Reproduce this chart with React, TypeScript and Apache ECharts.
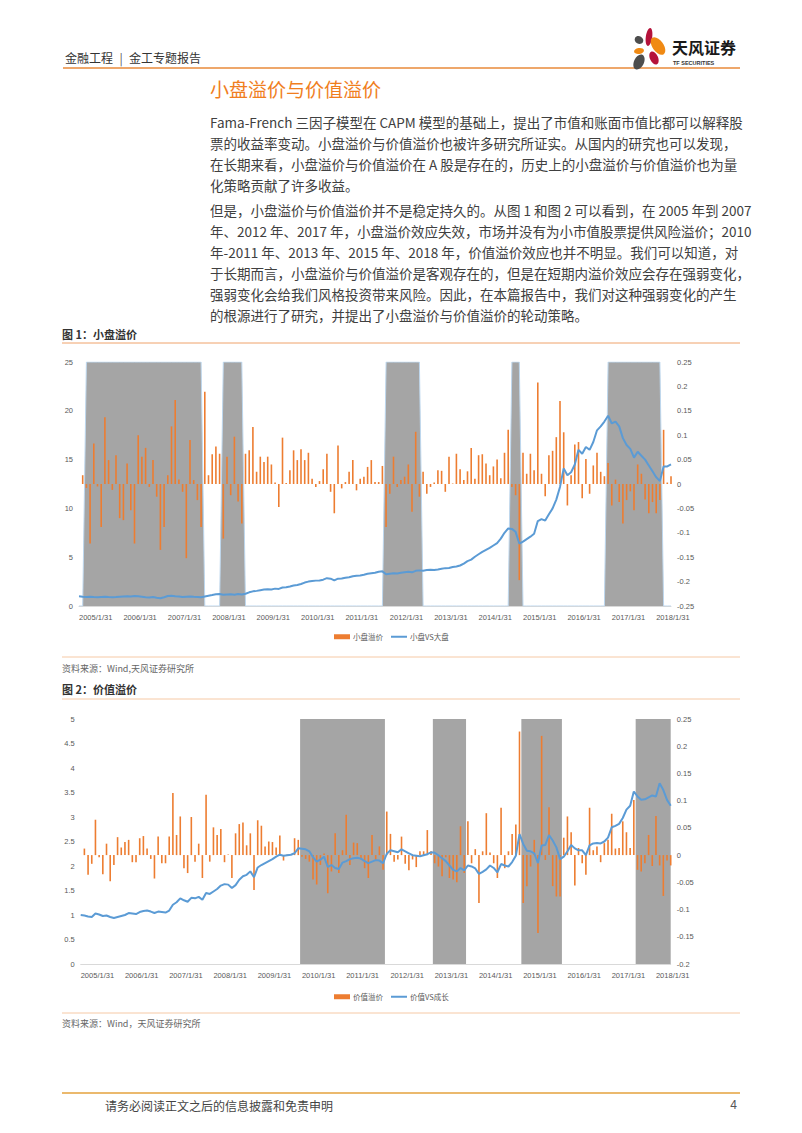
import React, { useEffect, useRef } from "react";
import * as echarts from "echarts";

// ---------- data ----------
const START_YEAR = 2005;
const MONTH_COUNT = 161; // 2005/1/31 .. 2018/5/31
const dates: string[] = [];
for (let k = 0; k < MONTH_COUNT; k++) {
  const y = START_YEAR + Math.floor(k / 12);
  const m = (k % 12) + 1;
  dates.push(`${y}/${m}/${new Date(y, m, 0).getDate()}`);
}

// 小盘溢价 (right axis)
const sizePremium = [
  null, 0.018, -0.008, -0.122, 0.083, -0.005, -0.088, 0.137, 0.049, -0.012,
  0.059, -0.07, -0.074, 0.042, -0.054, -0.122, 0.1, 0.056, 0.074, -0.006,
  0.049, -0.026, -0.135, -0.088, 0.018, 0.118, 0.172, 0.009, -0.016, -0.152,
  0.09, 0.008, -0.033, -0.088, 0.189, 0.018, 0.061, 0.077, 0.062, -0.112,
  0.056, -0.023, 0.097, -0.036, -0.081, 0.062, 0.069, 0.117, 0.025, 0.056,
  0.045, 0.056, 0.04, 0.003, -0.047, 0.095, 0.002, 0.028, 0.069, 0.049,
  0.071, 0.049, 0.064, 0.011, -0.006, 0.006, 0.03, 0.062, -0.016, -0.06,
  0.079, -0.009, 0.004, 0.025, 0.049, -0.013, 0.011, 0.015, 0.035, 0.049,
  0.004, 0.004, 0.037, -0.088, -0.02, 0.056, -0.006, 0.008, 0.015, 0.04,
  -0.057, 0.107, -0.026, 0.025, -0.02, -0.006, 0.003, 0.028, 0.027, -0.016,
  0.056, 0.001, 0.062, 0.03, 0.008, 0.026, 0.074, 0.011, 0.059, 0.061,
  0.042, 0.018, 0.036, 0.05, 0.012, 0.064, 0.111, -0.006, -0.023, -0.197,
  0.064, 0.021, 0.062, 0.028, 0.208, 0.021, -0.025, 0.059, 0.068, 0.096,
  0.17, 0.106, -0.044, 0.018, 0.081, 0.086, -0.029, 0.051, -0.02, 0.038,
  0.064, 0.025, 0.016, 0.043, -0.044, 0.009, -0.037, -0.081, -0.033, -0.015,
  -0.054, 0.04, 0.021, -0.032, -0.06, -0.037, -0.06, -0.033, 0.111, 0.003,
  0.016,
];

// 小盘VS大盘 (left axis)
const sizeNav = [
  1.0, 0.95, 0.93, 0.95, 0.92, 0.9, 0.93, 0.95, 0.92, 0.9,
  0.92, 0.95, 0.98, 1.0, 0.97, 1.02, 1.0, 0.95, 0.9, 0.88,
  0.92, 0.85, 0.8, 0.9, 1.02, 1.05, 1.0, 0.98, 0.92, 0.95,
  0.98, 0.95, 0.93, 0.9, 0.98, 1.05, 1.12, 1.2, 1.22, 1.15,
  1.18, 1.2, 1.15, 1.22, 1.18, 1.25, 1.4, 1.5, 1.55, 1.62,
  1.68, 1.72, 1.7, 1.78, 1.75, 1.9, 1.92, 2.0, 2.1, 2.15,
  2.25, 2.4, 2.5, 2.55, 2.6, 2.62, 2.7, 2.85, 2.8, 2.62,
  2.8, 2.82, 2.9, 2.95, 3.05, 3.1, 3.12, 3.2, 3.3, 3.35,
  3.4, 3.5, 3.55, 3.25, 3.3, 3.35, 3.32, 3.4, 3.45, 3.5,
  3.45, 3.6, 3.65, 3.62, 3.68, 3.72, 3.7, 3.75, 3.82, 3.88,
  3.9, 4.0, 4.05, 4.15, 4.35, 4.6, 4.75, 5.05, 5.3, 5.55,
  5.75, 5.95, 6.2, 6.45, 6.9, 7.5, 7.95, 7.9, 7.6, 6.4,
  6.6, 6.85, 7.1, 7.4, 8.7, 8.9, 8.75, 9.4, 10.0, 10.9,
  12.2, 14.1, 13.4, 13.7, 14.5, 16.0, 15.6, 16.3, 16.0, 16.8,
  18.0, 18.4, 18.9, 19.5, 18.7, 18.9, 18.4, 17.2, 16.5, 16.1,
  15.2, 15.8, 15.4, 15.0, 14.4, 13.8, 13.2, 12.8, 14.3, 14.3,
  14.5,
];

// 小盘溢价失效区间 (gray)
const sizeRegimes = [
  ["2005/3/31", "2007/10/31"],
  ["2008/4/30", "2008/9/30"],
  ["2011/12/31", "2012/9/30"],
  ["2014/10/31", "2014/12/31"],
  ["2016/12/31", "2018/2/28"],
];

// 价值溢价 (right axis)
const valuePremium = [
  null, 0.012, -0.036, -0.016, 0.065, -0.004, -0.035, 0.021, -0.048, -0.018,
  0.033, 0.014, 0.024, 0.028, -0.013, -0.013, 0.031, 0.035, 0.012, -0.007,
  -0.043, 0.034, -0.015, -0.015, 0.034, 0.114, 0.037, 0.071, -0.024, -0.033,
  0.07, -0.012, 0.021, -0.042, 0.111, -0.012, 0.051, 0.037, 0.048, -0.013,
  0.001, -0.042, 0.04, 0.057, 0.06, 0.018, 0.04, -0.064, 0.064, 0.054,
  0.016, 0.025, 0.024, 0.014, 0.036, -0.01, 0.001, 0.002, 0.031, 0.028,
  -0.003, -0.007, -0.012, -0.045, -0.054, -0.018, 0.003, -0.07, -0.03, 0.04,
  -0.033, 0.009, 0.074, -0.018, 0.023, 0.022, -0.008, -0.024, -0.042, 0.037,
  -0.008, 0.016, -0.027, 0.08, 0.039, -0.012, -0.008, 0.034, -0.016, -0.028,
  -0.008, -0.022, 0.007, 0.007, 0.046, 0.007, -0.015, -0.021, -0.039, -0.004,
  -0.042, -0.045, -0.05, 0.053, -0.033, 0.062, -0.015, 0.011, -0.088, 0.007,
  0.077, 0.005, -0.015, -0.042, 0.087, -0.024, 0.007, 0.039, 0.056, 0.227,
  -0.088, -0.057, -0.021, 0.028, -0.143, 0.219, -0.009, 0.088, -0.057, -0.076,
  -0.076, 0.032, 0.071, 0.042, -0.056, 0.013, -0.015, -0.036, 0.087, 0.009,
  0.016, -0.013, 0.022, 0.028, 0.076, 0.012, 0.013, 0.062, 0.042, 0.013,
  0.101, -0.027, -0.03, -0.015, 0.037, -0.02, 0.072, -0.019, -0.075, -0.01,
  -0.019,
];

// 价值VS成长 (left axis)
const valueNav = [
  1.0, 0.99, 0.97, 0.96, 1.03, 1.01, 0.98, 0.99, 0.96, 0.94, 0.96,
  0.98, 1.0, 1.04, 1.03, 1.02, 1.06, 1.08, 1.09, 1.07, 1.04,
  1.07, 1.06, 1.05, 1.09, 1.21, 1.26, 1.34, 1.3, 1.27, 1.35,
  1.34, 1.37, 1.31, 1.45, 1.43, 1.48, 1.53, 1.6, 1.63, 1.62,
  1.55, 1.61, 1.72, 1.79, 1.82, 1.89, 1.77, 1.97, 2.02, 2.06,
  2.1, 2.14, 2.19, 2.23, 2.21, 2.22, 2.23, 2.26, 2.36, 2.35,
  2.34, 2.3, 2.18, 2.09, 2.13, 2.19, 1.98, 2.02, 1.96, 1.94,
  2.07, 2.1, 2.14, 2.16, 2.17, 2.15, 2.1, 2.06, 2.09, 2.12,
  2.11, 2.06, 2.25, 2.32, 2.3, 2.28, 2.34, 2.3, 2.26, 2.22,
  2.21, 2.2, 2.22, 2.24, 2.28, 2.27, 2.22, 2.16, 2.1, 2.01,
  1.92, 1.89, 1.96, 1.91, 2.01, 1.99, 1.95, 1.84, 1.88, 1.93,
  2.01, 1.96, 1.87, 2.04, 2.01, 1.99, 2.08, 2.21, 2.65, 2.45,
  2.31, 2.3, 2.26, 2.06, 2.42, 2.43, 2.63, 2.52, 2.38, 2.14,
  2.19, 2.3, 2.43, 2.36, 2.32, 2.32, 2.22, 2.42, 2.46, 2.47,
  2.46, 2.5, 2.58, 2.79, 2.82, 2.86, 2.98, 3.15, 3.23, 3.52,
  3.42, 3.35, 3.36, 3.4, 3.44, 3.42, 3.69, 3.55, 3.35, 3.23,
];

// 价值溢价失效区间 (gray)
const valueRegimes = [
  ["2010/1/31", "2011/11/30"],
  ["2013/1/31", "2013/9/30"],
  ["2015/1/31", "2015/11/30"],
  ["2017/8/31", "2018/5/31"],
];

const sizeLeftTicks = { min: 0, max: 25, interval: 5 };
const sizeRightTicks = { min: -0.25, max: 0.25, interval: 0.05 };
const valueLeftTicks = { min: 0, max: 5, interval: 0.5 };
const valueRightTicks = { min: -0.2, max: 0.25, interval: 0.05 };

const para1 = [
  "Fama-French 三因子模型在 CAPM 模型的基础上，提出了市值和账面市值比都可以解释股",
  "票的收益率变动。小盘溢价与价值溢价也被许多研究所证实。从国内的研究也可以发现，",
  "在长期来看，小盘溢价与价值溢价在 A 股是存在的，历史上的小盘溢价与价值溢价也为量",
  "化策略贡献了许多收益。",
];
const para2 = [
  "但是，小盘溢价与价值溢价并不是稳定持久的。从图 1 和图 2 可以看到，在 2005 年到 2007",
  "年、2012 年、2017 年，小盘溢价效应失效，市场并没有为小市值股票提供风险溢价；2010",
  "年-2011 年、2013 年、2015 年、2018 年，价值溢价效应也并不明显。我们可以知道，对",
  "于长期而言，小盘溢价与价值溢价是客观存在的，但是在短期内溢价效应会存在强弱变化，",
  "强弱变化会给我们风格投资带来风险。因此，在本篇报告中，我们对这种强弱变化的产生",
  "的根源进行了研究，并提出了小盘溢价与价值溢价的轮动策略。",
];

// ---------- helpers ----------
const CJK = '"Noto Sans CJK SC", sans-serif';
const LAT = '"Liberation Sans", Arial, sans-serif';
const ORANGE = "#ED7D31";
const BLUE = "#5B9BD5";
const GRAY = "#A5A5A5";
const AXIS_TXT = "#595959";

function inRegime(d: string, regimes: string[][]) {
  const k = dates.indexOf(d);
  return regimes.some(([a, b]) => k >= dates.indexOf(a) && k <= dates.indexOf(b));
}
const sizeBand = dates.map((d) => (inRegime(d, sizeRegimes) ? sizeLeftTicks.max : 0));
const valueBand = dates.map((d) => (inRegime(d, valueRegimes) ? valueLeftTicks.max : 0));

function txt(text: string, x: number, y: number, size: number, fill: string, weight = "normal", family = CJK, align = "left") {
  return {
    type: "text",
    x,
    y,
    silent: true,
    style: {
      text,
      fill,
      fontSize: size,
      fontFamily: family,
      fontWeight: weight,
      align,
      textAlign: align,
      verticalAlign: "middle",
      textVerticalAlign: "middle",
    },
  };
}
function hline(x1: number, x2: number, y: number, stroke: string, w = 1) {
  return { type: "line", silent: true, shape: { x1, y1: y, x2, y2: y }, style: { stroke, lineWidth: w } };
}
function petal(x: number, y: number, rx: number, ry: number, rotDeg: number, fill: string) {
  return { type: "ellipse", x, y, rotation: (rotDeg * Math.PI) / 180, silent: true, shape: { cx: 0, cy: 0, rx, ry }, style: { fill } };
}

const fmt = (v: number) => String(Number(v.toFixed(2)));

function xAxisFor(gridIndex: number) {
  return {
    gridIndex,
    type: "category",
    data: dates,
    boundaryGap: false,
    axisLine: { show: true, lineStyle: { color: "#D9D9D9", width: 1 } },
    axisTick: { show: false },
    splitLine: { show: false },
    axisLabel: {
      interval: (index: number) => index % 12 === 0,
      align: "left",
      margin: 7,
      fontSize: 7.5,
      color: AXIS_TXT,
      fontFamily: LAT,
    },
  };
}
function yAxisFor(gridIndex: number, position: string, ticks: any) {
  return {
    gridIndex,
    type: "value",
    position,
    min: ticks.min,
    max: ticks.max,
    interval: ticks.interval,
    axisLine: { show: false },
    axisTick: { show: false },
    splitLine: { show: false },
    axisLabel: { fontSize: 7.5, color: AXIS_TXT, fontFamily: LAT, margin: 6, formatter: fmt },
  };
}

const LINE_ICON = "path://M0,0H16V2H0Z";

const bodyColor = "#404040";
const graphicElements: any[] = [
  // header
  txt("金融工程", 65, 57, 12, "#333"),
  txt("|", 121, 57, 12, "#555", "normal", CJK, "center"),
  txt("金工专题报告", 129, 57, 12, "#333"),
  hline(63, 740, 68, "#E98A3A", 1.5),
  // logo
  petal(649, 37, 3.2, 9, -8, "#B5123A"),
  petal(639, 40, 4.5, 3.8, -30, "#4D4D4D"),
  petal(658, 46, 5.5, 10, 35, "#F08A14"),
  petal(639, 51, 5, 3, 10, "#F08A14"),
  petal(654, 58, 4, 7, 25, "#B5123A"),
  petal(639, 62, 5, 8, -25, "#4D4D4D"),
  txt("天风证券", 672, 47, 16, "#1A1A1A", "bold"),
  txt("TF SECURITIES", 673, 63, 5.5, "#333", "bold", LAT),
  // title
  txt("小盘溢价与价值溢价", 210, 88, 19, "#F07E1E"),
  ...para1.map((t, i) => txt(t, 210, 122 + i * 21, 13.5, bodyColor)),
  ...para2.map((t, i) => txt(t, 210, 210 + i * 21, 13.5, bodyColor)),
  // figure 1
  txt("图 1：小盘溢价", 62, 334, 11, "#333", "bold"),
  hline(62, 740, 343, "#EFA26A", 1),
  hline(62, 740, 657, "#F6C9A5", 1),
  txt("资料来源：Wind,天风证券研究所", 62, 668, 9, "#666"),
  // figure 2
  txt("图 2：价值溢价", 62, 689, 11, "#333", "bold"),
  hline(62, 740, 699, "#F6C9A5", 1),
  hline(62, 740, 1013, "#F6C9A5", 1),
  txt("资料来源：Wind，天风证券研究所", 62, 1023, 9, "#666"),
  // footer
  hline(62, 740, 1093, "#E4A23C", 1.5),
  txt("请务必阅读正文之后的信息披露和免责申明", 105, 1105, 12, "#444"),
  txt("4", 737, 1105, 12, "#555", "normal", LAT, "right"),
];

function legendFor(top: number, barName: string, lineName: string) {
  return {
    left: 329,
    top,
    itemWidth: 16,
    itemHeight: 5,
    itemGap: 8,
    selectedMode: false,
    textStyle: { fontSize: 7.5, color: AXIS_TXT, fontFamily: CJK, padding: [0, 0, 0, -2] },
    data: [
      { name: barName, icon: "rect" },
      { name: lineName, icon: LINE_ICON, itemStyle: { color: BLUE } },
    ],
  };
}

const option: any = {
  animation: false,
  backgroundColor: "#ffffff",
  textStyle: { fontFamily: CJK },
  graphic: { elements: graphicElements },
  grid: [
    { left: 79, top: 362, width: 592, height: 244 },
    { left: 80.7, top: 719, width: 590, height: 245 },
  ],
  xAxis: [xAxisFor(0), xAxisFor(1)],
  yAxis: [
    yAxisFor(0, "left", sizeLeftTicks),
    yAxisFor(0, "right", sizeRightTicks),
    yAxisFor(1, "left", valueLeftTicks),
    yAxisFor(1, "right", valueRightTicks),
  ],
  legend: [legendFor(628, "小盘溢价", "小盘VS大盘"), legendFor(988, "价值溢价", "价值VS成长")],
  series: [
    {
      type: "line",
      xAxisIndex: 0,
      yAxisIndex: 0,
      data: sizeBand,
      symbol: "none",
      silent: true,
      z: 1,
      lineStyle: { color: "#BDD7EE", width: 1 },
      areaStyle: { color: GRAY, opacity: 1 },
    },
    {
      name: "小盘溢价",
      type: "bar",
      xAxisIndex: 0,
      yAxisIndex: 1,
      data: sizePremium,
      barWidth: 1.6,
      z: 2,
      itemStyle: { color: ORANGE },
    },
    {
      name: "小盘VS大盘",
      type: "line",
      xAxisIndex: 0,
      yAxisIndex: 0,
      data: sizeNav,
      symbol: "none",
      z: 3,
      lineStyle: { color: BLUE, width: 2 },
      itemStyle: { color: BLUE },
    },
    {
      type: "line",
      step: "middle",
      xAxisIndex: 1,
      yAxisIndex: 2,
      data: valueBand,
      symbol: "none",
      silent: true,
      z: 1,
      lineStyle: { width: 0, opacity: 0 },
      areaStyle: { color: GRAY, opacity: 1 },
    },
    {
      name: "价值溢价",
      type: "bar",
      xAxisIndex: 1,
      yAxisIndex: 3,
      data: valuePremium,
      barWidth: 1.6,
      z: 2,
      itemStyle: { color: ORANGE },
    },
    {
      name: "价值VS成长",
      type: "line",
      xAxisIndex: 1,
      yAxisIndex: 2,
      data: valueNav,
      symbol: "none",
      z: 3,
      lineStyle: { color: BLUE, width: 2 },
      itemStyle: { color: BLUE },
    },
  ],
};

export default function App() {
  const ref = useRef<HTMLDivElement>(null);
  useEffect(() => {
    document.body.style.margin = "0";
    const chart = echarts.init(ref.current!, null, { renderer: "svg", width: 802, height: 1133 });
    chart.setOption(option);
    return () => chart.dispose();
  }, []);
  return <div ref={ref} style={{ width: 802, height: 1133, background: "#fff" }} />;
}
